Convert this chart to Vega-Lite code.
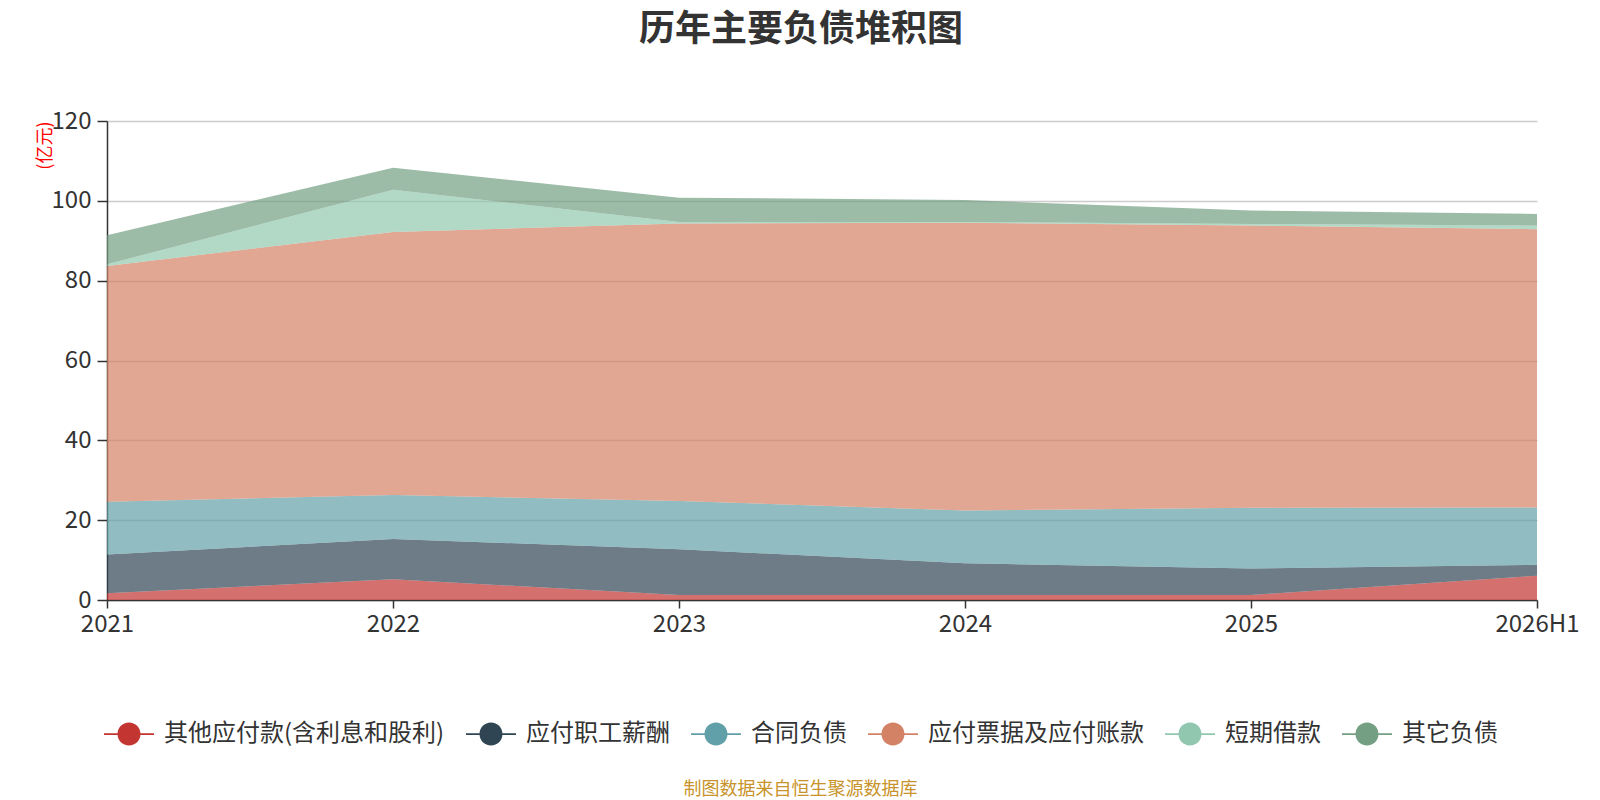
{
  "$schema": "https://vega.github.io/schema/vega-lite/v6.json",
  "width": 1430,
  "height": 479,
  "autosize": {"type": "none"},
  "padding": {"left": 107, "top": 121, "right": 63, "bottom": 200},
  "background": "white",
  "config": {
    "font": "Noto Sans CJK SC",
    "view": {"stroke": null}
  },
  "title": {
    "text": "历年主要负债堆积图",
    "fontSize": 36,
    "fontWeight": "bold",
    "color": "#333333",
    "anchor": "middle",
    "dx": -21,
    "offset": 60
  },
  "datasets": {
    "stackOrder": [
      {"series": "其他应付款(含利息和股利)", "rank": 1},
      {"series": "应付职工薪酬", "rank": 2},
      {"series": "合同负债", "rank": 3},
      {"series": "应付票据及应付账款", "rank": 4},
      {"series": "短期借款", "rank": 5},
      {"series": "其它负债", "rank": 6}
    ]
  },
  "data": {
    "values": [
      {"year": "2021", "其他应付款(含利息和股利)": 1.7, "应付职工薪酬": 9.7, "合同负债": 13.2, "应付票据及应付账款": 59.1, "短期借款": 0.4, "其它负债": 7.3},
      {"year": "2022", "其他应付款(含利息和股利)": 5.2, "应付职工薪酬": 10.1, "合同负债": 11.0, "应付票据及应付账款": 65.9, "短期借款": 10.6, "其它负债": 5.5},
      {"year": "2023", "其他应付款(含利息和股利)": 1.25, "应付职工薪酬": 11.45, "合同负债": 12.1, "应付票据及应付账款": 69.5, "短期借款": 0.4, "其它负债": 6.1},
      {"year": "2024", "其他应付款(含利息和股利)": 1.25, "应付职工薪酬": 7.95, "合同负债": 13.2, "应付票据及应付账款": 72.1, "短期借款": 0.2, "其它负债": 5.5},
      {"year": "2025", "其他应付款(含利息和股利)": 1.25, "应付职工薪酬": 6.65, "合同负债": 15.2, "应付票据及应付账款": 70.7, "短期借款": 0.4, "其它负债": 3.4},
      {"year": "2026H1", "其他应付款(含利息和股利)": 6.1, "应付职工薪酬": 2.7, "合同负债": 14.4, "应付票据及应付账款": 69.7, "短期借款": 0.9, "其它负债": 2.9}
    ]
  },
  "transform": [
    {
      "fold": ["其他应付款(含利息和股利)", "应付职工薪酬", "合同负债", "应付票据及应付账款", "短期借款", "其它负债"],
      "as": ["series", "value"]
    },
    {
      "lookup": "series",
      "from": {"data": {"name": "stackOrder"}, "key": "series", "fields": ["rank"]}
    }
  ],
  "mark": {"type": "area", "opacity": 0.7, "strokeWidth": 0},
  "encoding": {
    "x": {
      "field": "year",
      "type": "ordinal",
      "scale": {"type": "point", "padding": 0},
      "axis": {
        "title": "制图数据来自恒生聚源数据库",
        "titleColor": "#c8932a",
        "titleFontSize": 18,
        "titleFontWeight": "normal",
        "titleX": 693,
        "titleY": 189,
        "titleAlign": "center",
        "titleBaseline": "middle",
        "labelAngle": 0,
        "labelFontSize": 24,
        "labelColor": "#333333",
        "labelPadding": 4,
        "tickSize": 8,
        "tickWidth": 1.5,
        "tickColor": "#333333",
        "domainColor": "#333333",
        "domainWidth": 1.5,
        "grid": false
      }
    },
    "y": {
      "field": "value",
      "type": "quantitative",
      "stack": "zero",
      "scale": {"domain": [0, 120], "nice": false},
      "axis": {
        "values": [0, 20, 40, 60, 80, 100, 120],
        "title": "(亿元)",
        "titleColor": "#ff0000",
        "titleFontSize": 18,
        "titleFontWeight": "normal",
        "titleAngle": 270,
        "titleX": -62,
        "titleY": 0,
        "titleAlign": "right",
        "titleBaseline": "middle",
        "labelFontSize": 24,
        "labelColor": "#333333",
        "labelPadding": 6,
        "tickSize": 10,
        "tickWidth": 1.5,
        "tickColor": "#333333",
        "domainColor": "#333333",
        "domainWidth": 1.5,
        "gridColor": "#cccccc",
        "gridWidth": 1.5
      }
    },
    "order": {"field": "rank", "type": "quantitative", "sort": "ascending"},
    "color": {
      "field": "series",
      "type": "nominal",
      "scale": {
        "domain": ["其他应付款(含利息和股利)", "应付职工薪酬", "合同负债", "应付票据及应付账款", "短期借款", "其它负债"],
        "range": ["#c23531", "#2f4554", "#61a0a8", "#d48265", "#91c7ae", "#749f83"]
      },
      "legend": {
        "orient": "none",
        "direction": "horizontal",
        "columns": 6,
        "legendX": -3,
        "legendY": 588,
        "title": null,
        "symbolType": "M-1,-0.035H1V0.035H-1Z M-0.46,0A0.46,0.46 0 1,1 0.46,0A0.46,0.46 0 1,1 -0.46,0Z",
        "symbolSize": 2500,
        "symbolOpacity": 1,
        "symbolStrokeWidth": 0,
        "labelFontSize": 24,
        "labelColor": "#333333",
        "labelOffset": 10,
        "labelLimit": 400,
        "columnPadding": 21
      }
    }
  }
}
